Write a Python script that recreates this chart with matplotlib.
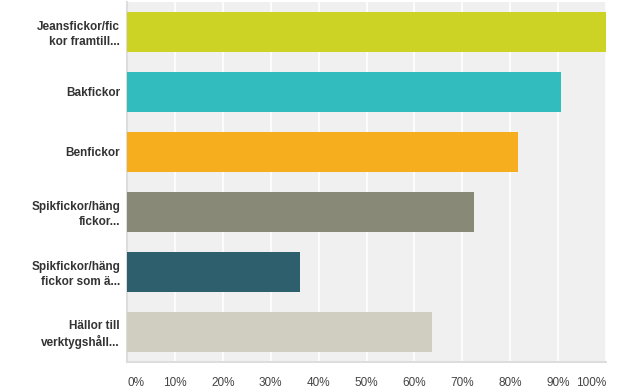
import matplotlib
matplotlib.use("Agg")
import matplotlib.pyplot as plt

# data
labels = ["Jeansfickor/fic\nkor framtill...", "Bakfickor", "Benfickor",
          "Spikfickor/häng\nfickor...", "Spikfickor/häng\nfickor som ä...",
          "Hällor till\nverktygshåll..."]
values = [100.0, 90.7, 81.7, 72.5, 36.1, 63.6]
colors = ["#cdd325", "#33bcbe", "#f6ae1e", "#888977", "#2e5f6c", "#d0cec0"]
ticks = list(range(0, 101, 10))
tick_labels = [f"{t}%" for t in ticks]

plt.rcParams['font.family'] = ['Liberation Sans', 'DejaVu Sans']

fig = plt.figure(figsize=(6.24, 3.88), dpi=100)
ax = fig.add_axes([127 / 624, 26.5 / 388, 479 / 624, 359.5 / 388])
ax.set_facecolor("#f0f0f0")

y = list(range(len(labels)))
ax.barh(y, values, height=0.667, color=colors, edgecolor="none", zorder=3)
ax.set_xlim(0, 100)
ax.set_ylim(len(labels) - 0.5, -0.5)

ax.set_xticks(ticks)
ax.set_xticklabels(tick_labels, fontsize=8.5, color="#444444")
# keep the end labels inside the plot width
xl = ax.get_xticklabels()
xl[0].set_horizontalalignment("left")
xl[-1].set_horizontalalignment("right")
ax.set_yticks(y)
ax.set_yticklabels(labels, fontsize=8.5, fontweight="bold", color="#333333",
                   linespacing=1.3)
ax.tick_params(axis="both", length=0)
ax.tick_params(axis="y", pad=5)
ax.tick_params(axis="x", pad=11)

ax.grid(axis="x", color="white", linewidth=1.2, zorder=1)
ax.grid(axis="y", visible=False)
for s in ["top", "right"]:
    ax.spines[s].set_visible(False)
ax.spines["left"].set_color("#dddddd")
ax.spines["bottom"].set_color("#dddddd")
ax.spines["left"].set_linewidth(1.5)
ax.spines["bottom"].set_linewidth(1.5)

fig.savefig("out.png", dpi=100)
